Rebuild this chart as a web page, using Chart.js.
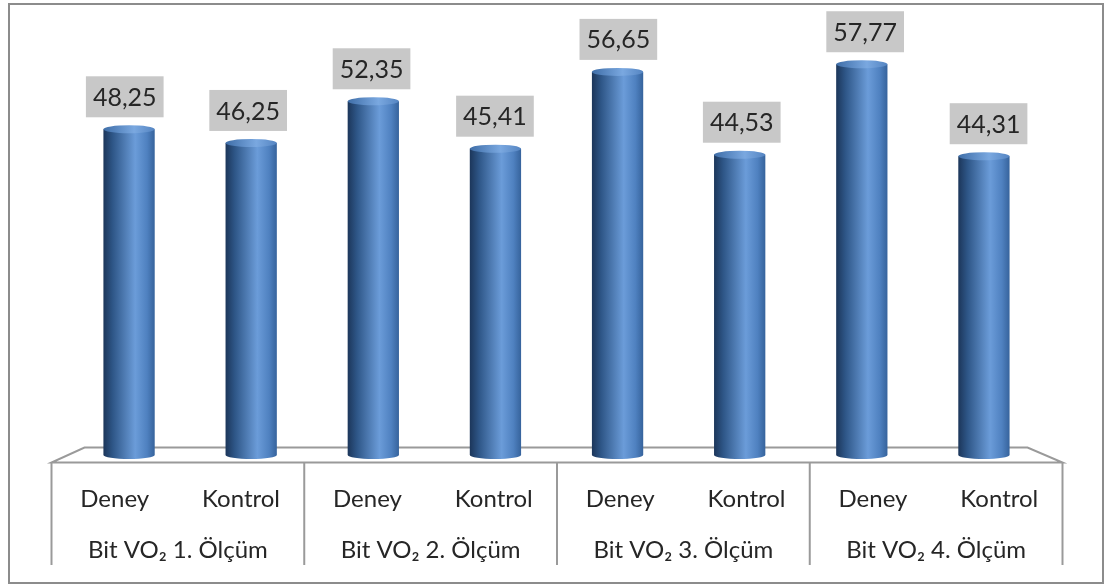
<!DOCTYPE html>
<html>
<head>
<meta charset="utf-8">
<script src="https://cdn.jsdelivr.net/npm/chart.js@4/dist/chart.umd.min.js"></script>
<style>
  html, body { margin: 0; padding: 0; background: #fff; }
  #wrap { width: 1105px; height: 585px; }
</style>
</head>
<body>
<div id="wrap"><canvas id="chart" width="1105" height="585"></canvas></div>
<script>
"use strict";

// data
const categories = ["Deney", "Kontrol", "Deney", "Kontrol", "Deney", "Kontrol", "Deney", "Kontrol"];
const groups = ["Bit VO\u2082 1. \u00d6l\u00e7\u00fcm", "Bit VO\u2082 2. \u00d6l\u00e7\u00fcm", "Bit VO\u2082 3. \u00d6l\u00e7\u00fcm", "Bit VO\u2082 4. \u00d6l\u00e7\u00fcm"];
const values = [48.25, 46.25, 52.35, 45.41, 56.65, 44.53, 57.77, 44.31];

const FONT = "Lato, 'Noto Sans', sans-serif";
const TEXT = "#262626";
const LINE = "#9a9a9a";

// perspective of the 3D floor (front edge wider than back edge)
function floorGeom(chart) {
  const a = chart.chartArea;
  const yb = chart.scales.y.getPixelForValue(0);
  return {
    backL: a.left + 16.5, backR: a.right - 17.5, backY: yb - 7.5,
    frontL: a.left - 16.5, frontR: a.right + 17.5, frontY: yb + 7.5
  };
}

function frontX(g, i) {
  return g.frontL + (g.frontR - g.frontL) * (i + 0.5) / categories.length;
}

const framePlugin = {
  id: "frame",
  beforeDatasetsDraw(chart) {
    const ctx = chart.ctx;
    const g = floorGeom(chart);
    ctx.save();
    // outer border
    ctx.strokeStyle = "#8c8c8c";
    ctx.lineWidth = 2;
    ctx.strokeRect(9, 4, 1094, 579);
    // floor
    ctx.beginPath();
    ctx.moveTo(g.backL, g.backY);
    ctx.lineTo(g.backR, g.backY);
    ctx.lineTo(g.frontR, g.frontY);
    ctx.lineTo(g.frontL, g.frontY);
    ctx.closePath();
    ctx.fillStyle = "#fff";
    ctx.fill();
    ctx.strokeStyle = LINE;
    ctx.lineWidth = 2;
    ctx.stroke();
    // separators of the category axis
    for (let k = 0; k <= groups.length; k++) {
      const x = g.frontL + (g.frontR - g.frontL) * k / groups.length;
      ctx.beginPath();
      ctx.moveTo(x, g.frontY);
      ctx.lineTo(x, 565);
      ctx.stroke();
    }
    // labels
    ctx.fillStyle = TEXT;
    ctx.font = "24px " + FONT;
    ctx.textAlign = "center";
    ctx.textBaseline = "middle";
    categories.forEach((c, i) => ctx.fillText(c, frontX(g, i), 499));
    groups.forEach((t, k) => {
      const x = g.frontL + (g.frontR - g.frontL) * (k + 0.5) / groups.length;
      ctx.fillText(t, x, 550);
    });
    ctx.restore();
  },
  afterDatasetsDraw(chart) {
    const ctx = chart.ctx;
    const g = floorGeom(chart);
    const meta = chart.getDatasetMeta(0);
    const ry = 4;
    ctx.save();
    meta.data.forEach((el, i) => {
      const p = el.getProps(["x", "y", "base", "width"], true);
      const l = p.x - p.width / 2, r = p.x + p.width / 2;
      const grad = ctx.createLinearGradient(l, 0, r, 0);
      grad.addColorStop(0, "#1c365a");
      grad.addColorStop(0.18, "#2e5687");
      grad.addColorStop(0.62, "#6b9cd9");
      grad.addColorStop(0.85, "#4f81c0");
      grad.addColorStop(1, "#36639c");
      // body + bottom cap
      ctx.beginPath();
      ctx.moveTo(l, p.y + ry);
      ctx.lineTo(l, p.base);
      ctx.ellipse(p.x, p.base, p.width / 2, ry, 0, Math.PI, 0, true);
      ctx.lineTo(r, p.y + ry);
      ctx.closePath();
      ctx.fillStyle = grad;
      ctx.fill();
      // top cap
      const topGrad = ctx.createLinearGradient(l, 0, r, 0);
      topGrad.addColorStop(0, "#3f6ea8");
      topGrad.addColorStop(0.6, "#7aa8e0");
      topGrad.addColorStop(1, "#5585c2");
      ctx.beginPath();
      ctx.ellipse(p.x, p.y + ry, p.width / 2, ry, 0, 0, Math.PI * 2);
      ctx.fillStyle = topGrad;
      ctx.fill();

      // value label box
      const txt = values[i].toFixed(2).replace(".", ",");
      ctx.font = "25px " + FONT;
      const w = ctx.measureText(txt).width + 14;
      const h = 41;
      const cx = p.x + 0.3 * (frontX(g, i) - p.x);
      const bottom = p.y - 8;
      ctx.fillStyle = "#c8c8c8";
      ctx.fillRect(cx - w / 2, bottom - h, w, h);
      ctx.fillStyle = TEXT;
      ctx.textAlign = "center";
      ctx.textBaseline = "middle";
      ctx.fillText(txt, cx, bottom - h / 2 + 1);
    });
    ctx.restore();
  }
};

new Chart(document.getElementById("chart"), {
  type: "bar",
  data: {
    labels: categories,
    datasets: [{
      data: values,
      backgroundColor: "rgba(0,0,0,0)",
      borderWidth: 0,
      barPercentage: 0.42,
      categoryPercentage: 1
    }]
  },
  options: {
    responsive: false,
    animation: false,
    layout: { padding: { left: 68, right: 60, top: 45, bottom: 130 } },
    scales: {
      x: { display: false },
      y: { display: false, min: 0, max: 60 }
    },
    plugins: {
      legend: { display: false },
      tooltip: { enabled: false }
    }
  },
  plugins: [framePlugin]
});
</script>
</body>
</html>
